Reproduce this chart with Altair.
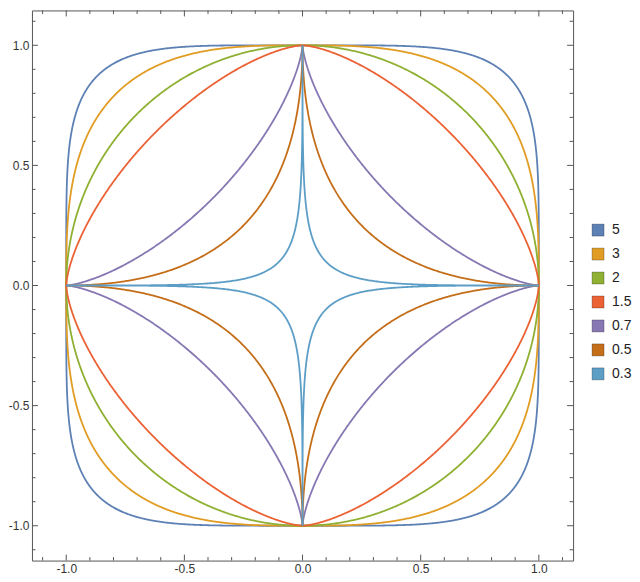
import numpy as np
import pandas as pd
import altair as alt

# Exponents of the superellipses |x|^p + |y|^p = 1 (legend order)
exponents = [5, 3, 2, 1.5, 0.7, 0.5, 0.3]
labels = ["5", "3", "2", "1.5", "0.7", "0.5", "0.3"]
colors = ["#5E81B5", "#E19C24", "#8FB032", "#EB6235", "#8778B3", "#C56E1A", "#5D9EC7"]

major_ticks = [-1.0, -0.5, 0.0, 0.5, 1.0]
minor_ticks = [-1.1, -0.9, -0.8, -0.7, -0.6, -0.4, -0.3, -0.2, -0.1,
               0.1, 0.2, 0.3, 0.4, 0.6, 0.7, 0.8, 0.9, 1.1]

rows = []
t = np.linspace(0, 2 * np.pi, 1441)
for p, lab in zip(exponents, labels):
    c, s = np.cos(t), np.sin(t)
    xs = np.sign(c) * np.abs(c) ** (2.0 / p)
    ys = np.sign(s) * np.abs(s) ** (2.0 / p)
    for i, (xv, yv) in enumerate(zip(xs, ys)):
        rows.append({"p": lab, "i": i, "x": float(xv), "y": float(yv)})
df = pd.DataFrame(rows)

W, H = 542, 551
dom = [-1.145, 1.145]
xs_ = alt.Scale(domain=dom, nice=False, zero=False)
ys_ = alt.Scale(domain=dom, nice=False, zero=False)
ax = dict(values=major_ticks, format=".1f", ticks=False, domain=False, grid=False,
          labelFont="Liberation Sans", labelFontSize=12, labelColor="#333333",
          labelPadding=3, title=None)

lines = alt.Chart(df).mark_line(strokeWidth=1.8).encode(
    x=alt.X("x:Q", scale=xs_, axis=alt.Axis(**ax)),
    y=alt.Y("y:Q", scale=ys_, axis=alt.Axis(**ax)),
    stroke=alt.Stroke("p:N", sort=labels, scale=alt.Scale(range=colors), legend=None),
    detail="p:N",
    order="i:Q",
)

legend_df = pd.DataFrame({"p": labels})
legend_layer = alt.Chart(legend_df).mark_point(shape="square", filled=True, opacity=1).encode(
    fill=alt.Fill("p:N", scale=alt.Scale(domain=labels, range=colors),
                  legend=alt.Legend(title=None, orient="none", legendX=560, legendY=213,
                                    symbolType="square", symbolSize=144,
                                    symbolStrokeColor="rgba(0,0,0,0.25)", symbolStrokeWidth=1,
                                    labelFont="Liberation Sans", labelFontSize=14,
                                    labelColor="#222222", rowPadding=8, labelOffset=7,
                                    padding=0)),
).transform_filter("false")

maj_df = pd.DataFrame({"v": major_ticks})
min_df = pd.DataFrame({"v": minor_ticks})
tick_color = "#555555"

def tick_layers(data, length):
    base = alt.Chart(data).mark_rule(color=tick_color, strokeWidth=1)
    return [
        base.encode(x=alt.X("v:Q", scale=xs_), y=alt.value(0), y2=alt.value(length)),
        base.encode(x=alt.X("v:Q", scale=xs_), y=alt.value(H), y2=alt.value(H - length)),
        base.encode(y=alt.Y("v:Q", scale=ys_), x=alt.value(0), x2=alt.value(length)),
        base.encode(y=alt.Y("v:Q", scale=ys_), x=alt.value(W), x2=alt.value(W - length)),
    ]

layers = [lines] + tick_layers(maj_df, 6) + tick_layers(min_df, 3.5) + [legend_layer]

chart = alt.layer(*layers).properties(
    width=W, height=H,
    padding={"left": 0, "top": 1, "right": 0, "bottom": 0},
).configure(
    background="white",
    locale={"number": {"decimal": ".", "thousands": ",", "grouping": [3],
                       "currency": ["$", ""], "minus": "-"}},
).configure_view(stroke="#555555", strokeWidth=1)

chart.save("out.html", embed_options={"renderer": "svg", "actions": False})
